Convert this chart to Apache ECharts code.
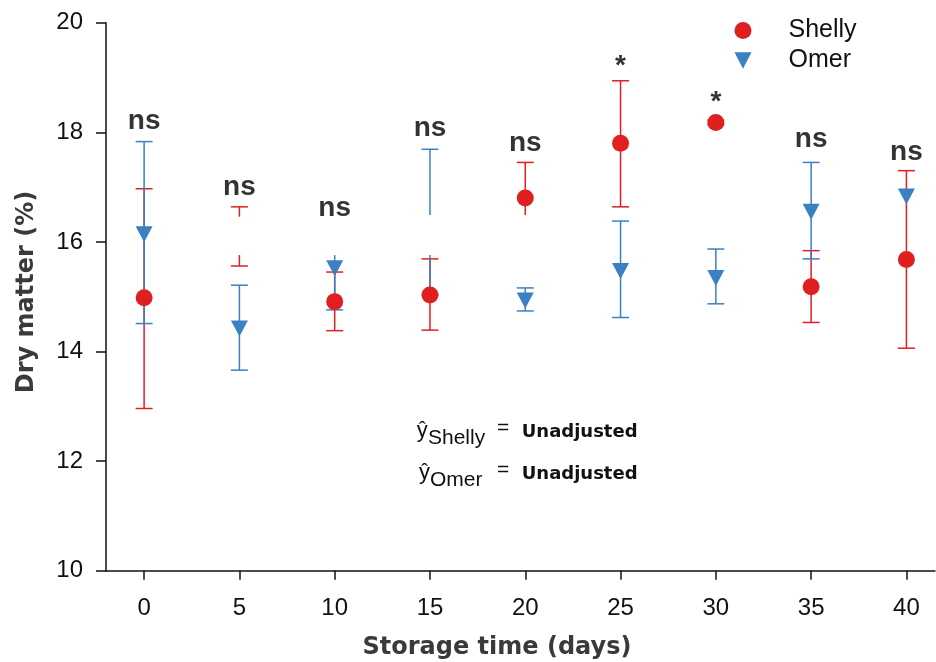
<!DOCTYPE html>
<html>
<head>
<meta charset="utf-8">
<script src="https://cdn.jsdelivr.net/npm/echarts@6/dist/echarts.min.js"></script>
<style>
  html, body { margin: 0; padding: 0; background: #fff; }
  #chart { width: 936px; height: 662px; }
</style>
</head>
<body>
<div id="chart"></div>
<script>
const days = [0, 5, 10, 15, 20, 25, 30, 35, 40]
const xTicks = [0, 5, 10, 15, 20, 25, 30, 35, 40]

// Shelly: mean and error bar ends (null = no marker drawn)
const shellyMean = [14.98, null, 14.91, 15.03, 16.80, 17.80, 18.18, 15.18, 15.68]
const shellyHigh = [16.97, 16.64, 15.45, 15.69, 17.45, 18.94, 18.22, 15.84, 17.30]
const shellyLow = [12.96, 15.56, 14.38, 14.39, 16.49, 16.64, 18.14, 14.53, 14.06]
const shellyGap = [null, [16.46, 15.76], null, null, null, null, null, null, null]
const shellyHighCap = [true, true, true, true, true, true, true, true, true]
const shellyLowCap = [true, true, true, true, false, true, true, true, true]

// Omer
const omerMean = [16.14, 14.42, 15.52, null, 14.93, 15.47, 15.34, 16.55, 16.83]
const omerHigh = [17.83, 15.21, 15.76, 17.69, 15.16, 16.38, 15.87, 17.45, 16.83]
const omerLow = [14.51, 13.66, 14.76, 15.03, 14.74, 14.62, 14.87, 15.69, 16.83]
const omerGap = [null, null, null, [16.49, 15.76], null, null, null, null, null]
const omerHighCap = [true, true, false, true, true, true, true, true, false]
const omerLowCap = [true, true, true, true, true, true, true, true, false]

// significance marks above each day
const sigText = ['ns', 'ns', 'ns', 'ns', 'ns', '*', '*', 'ns', 'ns']
const sigY = [18.2, 17.0, 16.62, 18.07, 17.8, 19.21, 18.55, 17.87, 17.64]

const RED = '#e02020'
const BLUE = '#3a80c3'

function errorSeries(name, color, high, low, gap, capHi, capLo) {
  return {
    type: 'custom',
    name: name + ' err',
    data: days.map((d, i) => [d, high[i], low[i]]),
    encode: { x: 0, y: [1, 2] },
    silent: true,
    renderItem(params, api) {
      const i = params.dataIndex
      const x = api.value(0)
      const top = api.coord([x, api.value(1)])
      const bot = api.coord([x, api.value(2)])
      const style = { stroke: color, lineWidth: 1.5 }
      const seg = (a, b) => ({ type: 'line', shape: { x1: a[0], y1: a[1], x2: b[0], y2: b[1] }, style })
      const children = []
      if (gap[i]) {
        const gt = api.coord([x, gap[i][0]])
        const gb = api.coord([x, gap[i][1]])
        children.push(seg(top, gt), seg(gb, bot))
      } else if (top[1] !== bot[1]) {
        children.push(seg(top, bot))
      }
      const w = 8.5
      if (capHi[i]) children.push(seg([top[0] - w, top[1]], [top[0] + w, top[1]]))
      if (capLo[i]) children.push(seg([bot[0] - w, bot[1]], [bot[0] + w, bot[1]]))
      return { type: 'group', children }
    },
  }
}

const toPts = arr => days.map((d, i) => [d, arr[i] === null ? '-' : arr[i]])

const chart = echarts.init(document.getElementById('chart'), null, { renderer: 'canvas' })

const fontR = '"Liberation Sans", Arial, sans-serif'
const fontB = '"DejaVu Sans", sans-serif'

chart.setOption({
  backgroundColor: '#ffffff',
  animation: false,
  grid: { left: 106, right: 1, top: 22.7, bottom: 91.3 },
  legend: {
    orient: 'vertical',
    left: 729.5,
    top: 13,
    itemWidth: 17,
    itemHeight: 17,
    itemGap: 5,
    data: [
      { name: 'Shelly', icon: 'circle' },
      { name: 'Omer', icon: 'path://M0,0 L10,0 L5,9.6 Z' },
    ],
    textStyle: { fontFamily: fontR, fontSize: 25, color: '#111', padding: [0, 0, 0, 32] },
    selectedMode: false,
  },
  xAxis: {
    type: 'value',
    min: -2,
    max: 41.5,
    axisLine: { onZero: false, lineStyle: { color: '#111', width: 1.5 } },
    axisTick: { customValues: xTicks, length: 9, lineStyle: { color: '#111', width: 1.5 } },
    axisLabel: { customValues: xTicks, margin: 26, fontFamily: fontR, fontSize: 24, color: '#111' },
    splitLine: { show: false },
  },
  yAxis: {
    type: 'value',
    min: 10,
    max: 20,
    interval: 2,
    axisLine: { show: true, onZero: false, lineStyle: { color: '#111', width: 1.5 } },
    axisTick: { show: true, length: 10, lineStyle: { color: '#111', width: 1.5 } },
    axisLabel: { margin: 23, fontFamily: fontR, fontSize: 24, color: '#111' },
    splitLine: { show: false },
  },
  graphic: [
    { type: 'text', rotation: Math.PI / 2, x: 27, y: 292,
      style: { text: 'Dry matter (%)', font: 'bold 24px ' + fontB, fill: '#3a3a3a', align: 'center', verticalAlign: 'middle' } },
    { type: 'text', x: 497, y: 648,
      style: { text: 'Storage time (days)', font: 'bold 24px ' + fontB, fill: '#3a3a3a', align: 'center', verticalAlign: 'middle' } },
    { type: 'text', x: 416.7, y: 431, style: { text: 'ŷ', font: '22px ' + fontR, fill: '#111', verticalAlign: 'middle' } },
    { type: 'text', x: 428, y: 438, style: { text: 'Shelly', font: '21px ' + fontR, fill: '#111', verticalAlign: 'middle' } },
    { type: 'text', x: 497, y: 428, style: { text: '=', font: '21px ' + fontR, fill: '#111', verticalAlign: 'middle' } },
    { type: 'text', x: 521.7, y: 432, style: { text: 'Unadjusted', font: 'bold 18px ' + fontB, fill: '#111', verticalAlign: 'middle' } },
    { type: 'text', x: 419, y: 473, style: { text: 'ŷ', font: '22px ' + fontR, fill: '#111', verticalAlign: 'middle' } },
    { type: 'text', x: 430, y: 480, style: { text: 'Omer', font: '21px ' + fontR, fill: '#111', verticalAlign: 'middle' } },
    { type: 'text', x: 497, y: 470, style: { text: '=', font: '21px ' + fontR, fill: '#111', verticalAlign: 'middle' } },
    { type: 'text', x: 521.7, y: 474, style: { text: 'Unadjusted', font: 'bold 18px ' + fontB, fill: '#111', verticalAlign: 'middle' } },
  ],
  series: [
    errorSeries('Shelly', RED, shellyHigh, shellyLow, shellyGap, shellyHighCap, shellyLowCap),
    {
      name: 'Shelly',
      type: 'scatter',
      data: toPts(shellyMean),
      symbol: 'circle',
      symbolSize: 17,
      itemStyle: { color: RED, opacity: 1 },
    },
    errorSeries('Omer', BLUE, omerHigh, omerLow, omerGap, omerHighCap, omerLowCap),
    {
      name: 'Omer',
      type: 'scatter',
      data: toPts(omerMean),
      symbol: 'triangle',
      symbolRotate: 180,
      symbolSize: [17, 16],
      itemStyle: { color: BLUE, opacity: 1 },
    },
    {
      name: 'sig',
      type: 'scatter',
      data: days.map((d, i) => [d, sigY[i]]),
      symbolSize: 0,
      silent: true,
      itemStyle: { color: 'transparent' },
      label: {
        show: true,
        position: 'inside',
        formatter: p => sigText[p.dataIndex],
        fontFamily: fontR,
        fontWeight: 'bold',
        fontSize: 28,
        color: '#000',
      },
    },
  ],
})
</script>
</body>
</html>
